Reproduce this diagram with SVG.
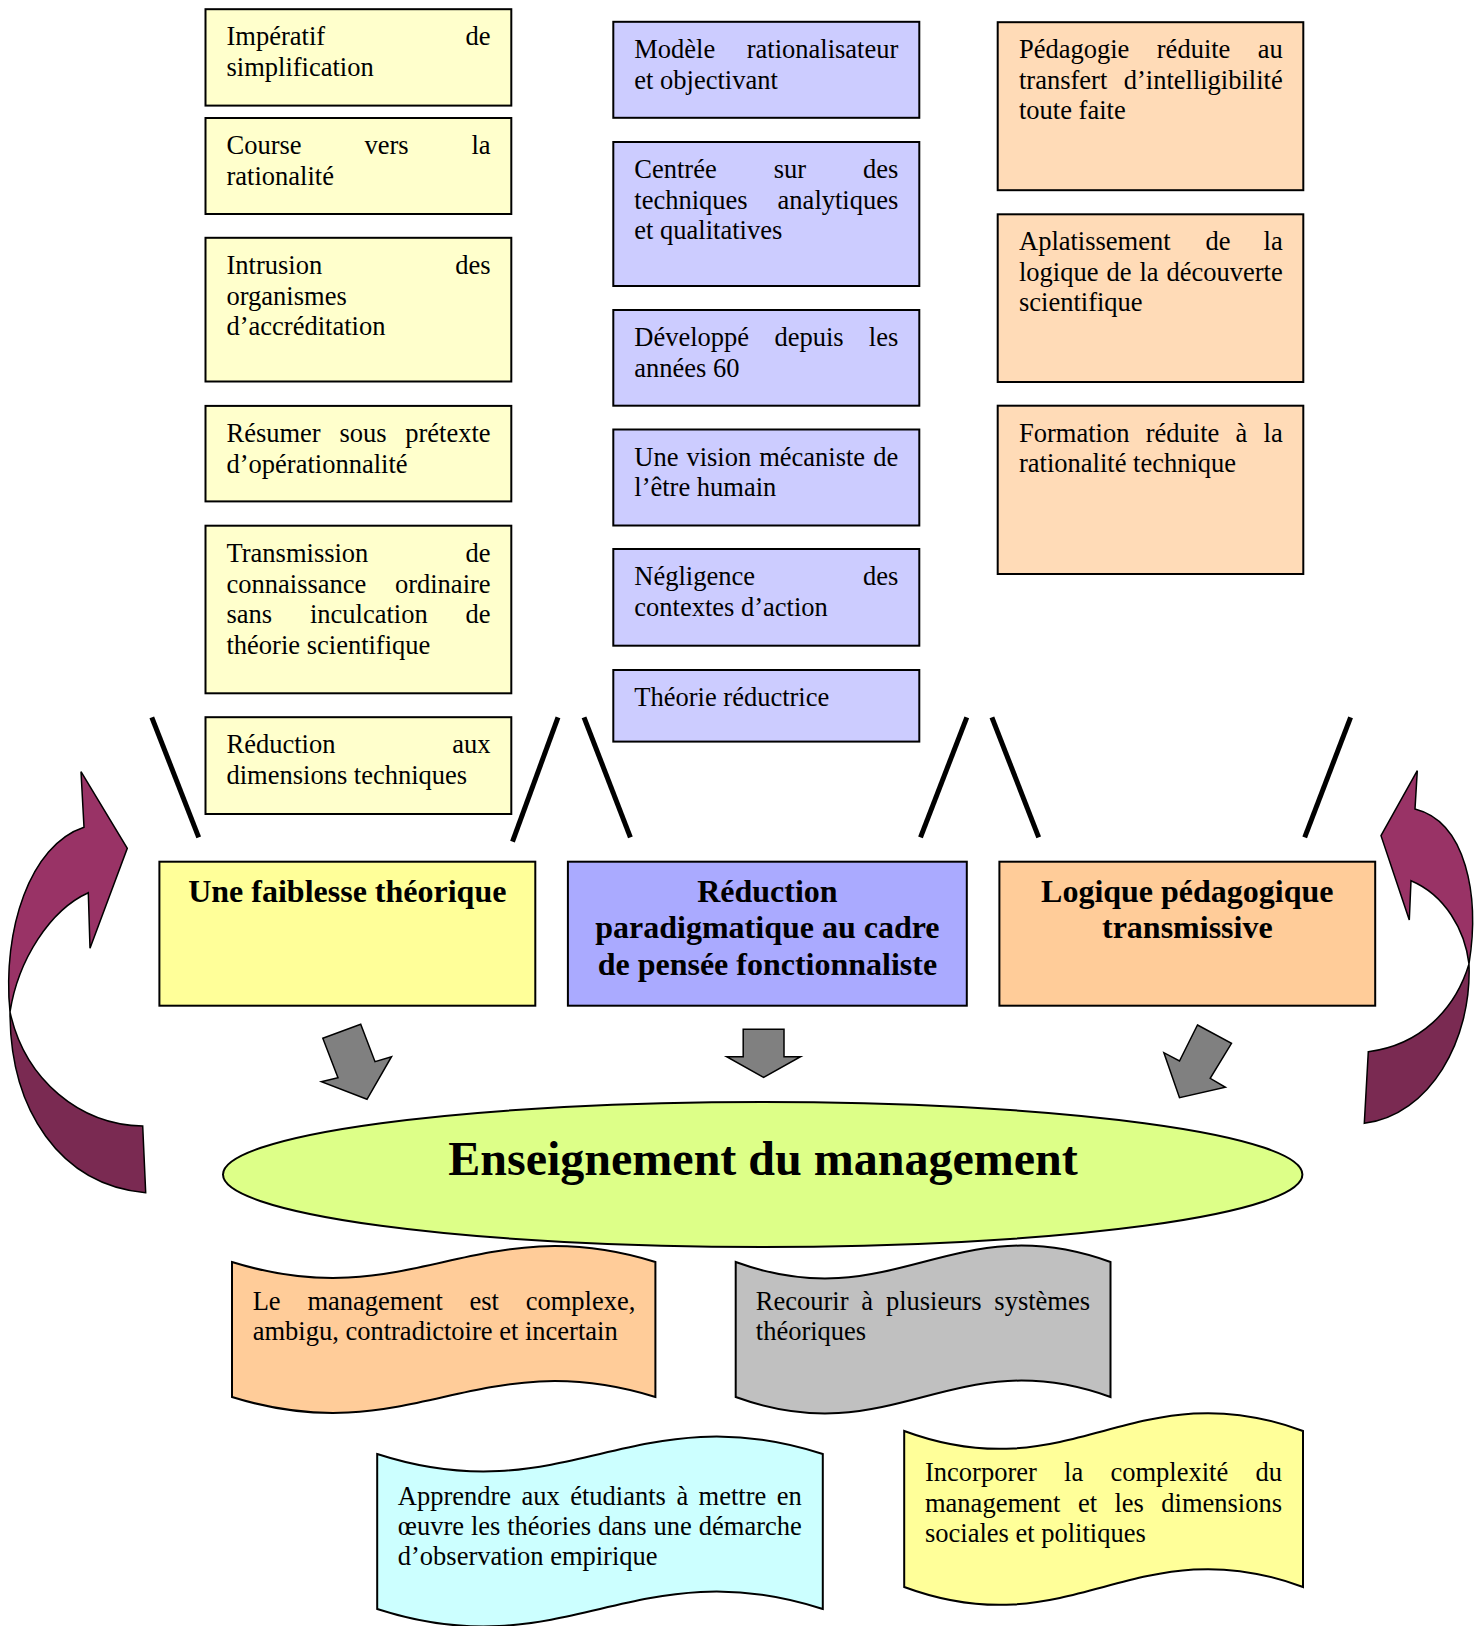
<svg xmlns="http://www.w3.org/2000/svg" width="1481" height="1626" viewBox="0 0 1481 1626">
<style>
.t{font-family:"Liberation Serif","Times New Roman",serif;font-size:26.5px;fill:#000}
.e{text-anchor:end}
.hb{font-family:"Liberation Serif","Times New Roman",serif;font-weight:bold;font-size:32px;text-anchor:middle;fill:#000}
.big{font-family:"Liberation Serif","Times New Roman",serif;font-weight:bold;font-size:48px;text-anchor:middle;fill:#000}
.by{fill:#FFFFCC;stroke:#000;stroke-width:2}
.bp{fill:#CCCCFF;stroke:#000;stroke-width:2}
.bo{fill:#FFDBB7;stroke:#000;stroke-width:2}
.ln{stroke:#000;stroke-width:5;fill:none}
.ga{fill:#808080;stroke:#000;stroke-width:1.5;stroke-linejoin:miter}
.pl{fill:#993366;stroke:#000;stroke-width:1.5}
.pd{fill:#7A2A52;stroke:#000;stroke-width:1.5}
.wv{stroke:#000;stroke-width:2}
</style>
<rect width="1481" height="1626" fill="#FFFFFF"/>

<!-- left column -->
<g id="l1"><rect class="by" x="205.5" y="9.2" width="305.8" height="96.4"/>
<text class="t" x="226.5" y="45">Impératif</text><text class="t e" x="490.6" y="45">de</text>
<text class="t" x="226.5" y="75.5">simplification</text></g>
<g id="l2"><rect class="by" x="205.5" y="118" width="305.8" height="96"/>
<text class="t" x="226.5" y="154">Course</text><text class="t" x="364.5" y="154">vers</text><text class="t e" x="490.6" y="154">la</text>
<text class="t" x="226.5" y="184.5">rationalité</text></g>
<g id="l3"><rect class="by" x="205.5" y="237.8" width="305.8" height="143.7"/>
<text class="t" x="226.5" y="274">Intrusion</text><text class="t e" x="490.6" y="274">des</text>
<text class="t" x="226.5" y="304.5">organismes</text>
<text class="t" x="226.5" y="335">d’accréditation</text></g>
<g id="l4"><rect class="by" x="205.5" y="405.9" width="305.8" height="95.5"/>
<text class="t" x="226.5" y="442">Résumer</text><text class="t" x="339.4" y="442">sous</text><text class="t e" x="490.6" y="442">prétexte</text>
<text class="t" x="226.5" y="472.5">d’opérationnalité</text></g>
<g id="l5"><rect class="by" x="205.5" y="525.7" width="305.8" height="167.6"/>
<text class="t" x="226.5" y="562">Transmission</text><text class="t e" x="490.6" y="562">de</text>
<text class="t" x="226.5" y="592.5">connaissance</text><text class="t e" x="490.6" y="592.5">ordinaire</text>
<text class="t" x="226.5" y="623">sans</text><text class="t" x="310" y="623">inculcation</text><text class="t e" x="490.6" y="623">de</text>
<text class="t" x="226.5" y="653.5">théorie scientifique</text></g>
<g id="l6"><rect class="by" x="205.5" y="717.2" width="305.8" height="96.8"/>
<text class="t" x="226.5" y="753">Réduction</text><text class="t e" x="490.6" y="753">aux</text>
<text class="t" x="226.5" y="783.5">dimensions techniques</text></g>

<!-- middle column -->
<g id="m1"><rect class="bp" x="613.3" y="21.8" width="306" height="96"/>
<text class="t" x="634.3" y="58">Modèle</text><text class="t e" x="898.3" y="58">rationalisateur</text>
<text class="t" x="634.3" y="88.5">et objectivant</text></g>
<g id="m2"><rect class="bp" x="613.3" y="142" width="306" height="144"/>
<text class="t" x="634.3" y="178">Centrée</text><text class="t" x="773.7" y="178">sur</text><text class="t e" x="898.3" y="178">des</text>
<text class="t" x="634.3" y="208.5">techniques</text><text class="t e" x="898.3" y="208.5">analytiques</text>
<text class="t" x="634.3" y="239">et qualitatives</text></g>
<g id="m3"><rect class="bp" x="613.3" y="310" width="306" height="95.7"/>
<text class="t" x="634.3" y="346">Développé</text><text class="t" x="774.4" y="346">depuis</text><text class="t e" x="898.3" y="346">les</text>
<text class="t" x="634.3" y="376.5">années 60</text></g>
<g id="m4"><rect class="bp" x="613.3" y="429.5" width="306" height="96"/>
<text class="t" x="634.3" y="465.5">Une</text><text class="t" x="686.4" y="465.5">vision</text><text class="t" x="759.2" y="465.5">mécaniste</text><text class="t e" x="898.3" y="465.5">de</text>
<text class="t" x="634.3" y="496">l’être humain</text></g>
<g id="m5"><rect class="bp" x="613.3" y="549" width="306" height="96.7"/>
<text class="t" x="634.3" y="585">Négligence</text><text class="t e" x="898.3" y="585">des</text>
<text class="t" x="634.3" y="615.5">contextes d’action</text></g>
<g id="m6"><rect class="bp" x="613.3" y="670" width="306" height="71.6"/>
<text class="t" x="634.3" y="706">Théorie réductrice</text></g>

<!-- right column -->
<g id="r1"><rect class="bo" x="997.7" y="22.2" width="305.6" height="168"/>
<text class="t" x="1019" y="58.2">Pédagogie</text><text class="t" x="1156.8" y="58.2">réduite</text><text class="t e" x="1282.7" y="58.2">au</text>
<text class="t" x="1019" y="88.7">transfert</text><text class="t e" x="1282.7" y="88.7">d’intelligibilité</text>
<text class="t" x="1019" y="119.2">toute faite</text></g>
<g id="r2"><rect class="bo" x="997.7" y="214.3" width="305.6" height="167.7"/>
<text class="t" x="1019" y="250.3">Aplatissement</text><text class="t" x="1205.4" y="250.3">de</text><text class="t e" x="1282.7" y="250.3">la</text>
<text class="t" x="1019" y="280.8">logique</text><text class="t" x="1106.4" y="280.8">de</text><text class="t" x="1139.4" y="280.8">la</text><text class="t e" x="1282.7" y="280.8">découverte</text>
<text class="t" x="1019" y="311.3">scientifique</text></g>
<g id="r3"><rect class="bo" x="997.7" y="405.7" width="305.6" height="168.3"/>
<text class="t" x="1019" y="441.7">Formation</text><text class="t" x="1145.7" y="441.7">réduite</text><text class="t" x="1235.5" y="441.7">à</text><text class="t e" x="1282.7" y="441.7">la</text>
<text class="t" x="1019" y="472.2">rationalité technique</text></g>

<!-- connectors -->
<g id="connectors">
<line class="ln" x1="151.8" y1="717.3" x2="198.7" y2="837.3"/>
<line class="ln" x1="558" y1="717.3" x2="512.5" y2="841.7"/>
<line class="ln" x1="584" y1="717.3" x2="630.4" y2="837.3"/>
<line class="ln" x1="966.8" y1="717.3" x2="920.5" y2="837.3"/>
<line class="ln" x1="991.9" y1="717.3" x2="1038.7" y2="837.3"/>
<line class="ln" x1="1350.6" y1="717.3" x2="1304.7" y2="837.3"/>
<polygon class="ga" points="322.8,1038.3 360.7,1024.3 375,1061.7 391.5,1056.7 367,1099.3 321.4,1081.7 338,1077.7"/>
<polygon class="ga" points="743.2,1029.3 784,1029.3 784,1056.7 800.5,1056.7 763.6,1077.3 726.7,1056.7 743.2,1056.7"/>
<polygon class="ga" points="1197.5,1025 1231.5,1043.3 1210.2,1078.3 1225.4,1087.3 1179.5,1097.7 1163.9,1052.7 1179.5,1061"/>
<path class="pl" d="M84,827.3 L81,771.7 L127.3,848.3 L90,948.3 L88.3,892.7 C50,910 18,960 10,1012 C2,930 30,845 84,827.3 Z"/>
<path class="pd" d="M10,1012 C10,1110 60,1185 145.7,1192.7 L142.7,1126 C80,1125 25,1080 10,1012 Z"/>
<path class="pl" d="M1415,809 L1417.3,770.7 L1381,835.7 L1409.3,920 L1411,880.7 C1445,895 1465,930 1469,964 C1480,895 1466,822 1415,809 Z"/>
<path class="pd" d="M1469,964 C1472,1040 1430,1115 1364.3,1123.3 L1368.3,1051.7 C1420,1045 1455,1010 1469,964 Z"/>
</g>

<!-- main boxes -->
<g id="faiblesse"><rect x="159.4" y="861.7" width="375.9" height="144" fill="#FFFF99" stroke="#000" stroke-width="2"/>
<text class="hb" x="347.3" y="901.7">Une faiblesse théorique</text></g>
<g id="reduction"><rect x="567.9" y="861.7" width="398.9" height="144" fill="#AAAAFF" stroke="#000" stroke-width="2"/>
<text class="hb" x="767.4" y="901.7">Réduction</text>
<text class="hb" x="767.4" y="938.3">paradigmatique au cadre</text>
<text class="hb" x="767.4" y="975">de pensée fonctionnaliste</text></g>
<g id="logique"><rect x="999.4" y="861.7" width="375.8" height="144" fill="#FFCC99" stroke="#000" stroke-width="2"/>
<text class="hb" x="1187.3" y="901.7">Logique pédagogique</text>
<text class="hb" x="1187.3" y="938.3">transmissive</text></g>

<g id="enseignement"><ellipse cx="762.7" cy="1174.5" rx="539.7" ry="72.5" fill="#DDFF88" stroke="#000" stroke-width="2"/>
<text class="big" x="763" y="1175">Enseignement du management</text></g>

<!-- wave boxes -->
<g id="w1"><path class="wv" fill="#FFCC99" d="M232,1262 C409.8,1317.4 477.6,1206.6 655.4,1262 L655.4,1397 C477.6,1341.6 409.8,1452.4 232,1397 Z"/>
<text class="t" x="252.7" y="1310">Le</text><text class="t" x="307.4" y="1310">management</text><text class="t" x="469.5" y="1310">est</text><text class="t e" x="635.3" y="1310">complexe,</text>
<text class="t" x="252.7" y="1340">ambigu, contradictoire et incertain</text></g>
<g id="w2"><path class="wv" fill="#C0C0C0" d="M735.7,1262 C893.1,1319 953.1,1205 1110.5,1262 L1110.5,1397 C953.1,1340 893.1,1454 735.7,1397 Z"/>
<text class="t" x="755.8" y="1310">Recourir</text><text class="t" x="861.3" y="1310">à</text><text class="t" x="885.9" y="1310">plusieurs</text><text class="t e" x="1090" y="1310">systèmes</text>
<text class="t" x="755.8" y="1340">théoriques</text></g>
<g id="w3"><path class="wv" fill="#CCFFFF" d="M377.2,1454 C564.4,1514.6 635.6,1393.4 822.8,1454 L822.8,1609 C635.6,1548.4 564.4,1669.6 377.2,1609 Z"/>
<text class="t" x="397.8" y="1505">Apprendre</text><text class="t" x="521.5" y="1505">aux</text><text class="t" x="570.2" y="1505">étudiants</text><text class="t" x="676.4" y="1505">à</text><text class="t" x="698.6" y="1505">mettre</text><text class="t e" x="801.8" y="1505">en</text>
<text class="t" x="397.8" y="1535">œuvre</text><text class="t" x="470.9" y="1535">les</text><text class="t" x="507.2" y="1535">théories</text><text class="t" x="598" y="1535">dans</text><text class="t" x="653.5" y="1535">une</text><text class="t e" x="801.8" y="1535">démarche</text>
<text class="t" x="397.8" y="1565">d’observation empirique</text></g>
<g id="w4"><path class="wv" fill="#FFFF99" d="M904.2,1431 C1071.7,1493 1135.5,1369 1303,1431 L1303,1587 C1135.5,1525 1071.7,1649 904.2,1587 Z"/>
<text class="t" x="925" y="1481">Incorporer</text><text class="t" x="1064.1" y="1481">la</text><text class="t" x="1110.5" y="1481">complexité</text><text class="t e" x="1282" y="1481">du</text>
<text class="t" x="925" y="1511.5">management</text><text class="t" x="1077.9" y="1511.5">et</text><text class="t" x="1114.5" y="1511.5">les</text><text class="t e" x="1282" y="1511.5">dimensions</text>
<text class="t" x="925" y="1542">sociales et politiques</text></g>
</svg>
